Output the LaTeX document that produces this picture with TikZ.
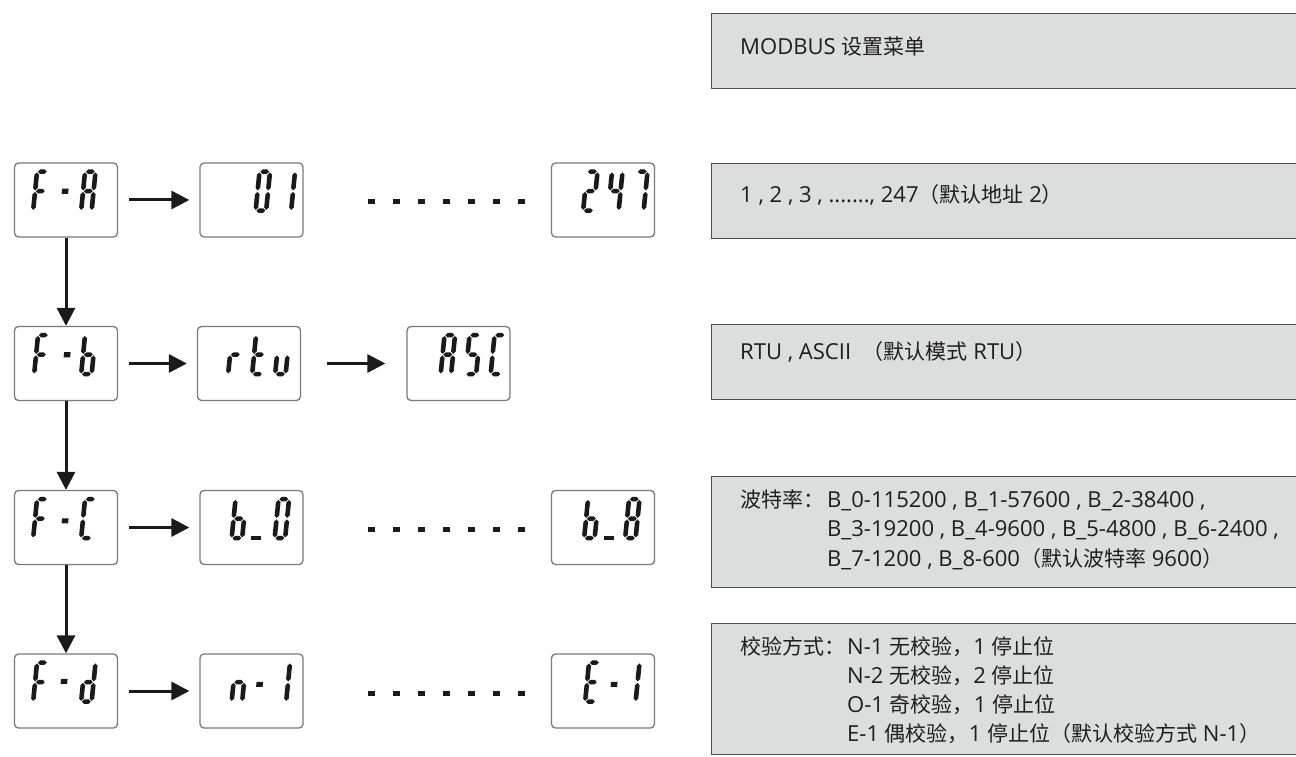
\documentclass[tikz,border=0pt]{standalone}
\usepackage{fontspec}
\setmainfont{Open Sans}[Scale=1.05]
\newfontfamily\cjk{Noto Sans CJK SC}
\usetikzlibrary{calc,arrows.meta}
\definecolor{boxgray}{HTML}{DCDDDD}
\definecolor{boxedge}{HTML}{4D4D4D}
\definecolor{lcdedge}{HTML}{7A7A7A}
\definecolor{segc}{HTML}{1A1A1A}
\definecolor{txt}{HTML}{1E1E1E}
\newcommand\SegH[3]{\fill[segc] (#1,#3) -- ({#1+2.3},{#3+2.3}) -- ({#2-2.3},{#3+2.3}) -- (#2,#3) -- ({#2-2.3},{#3-2.3}) -- ({#1+2.3},{#3-2.3}) -- cycle;}
\newcommand\SegV[3]{\fill[segc] (#1,#2) -- ({#1+2.3},{#2+2.3}) -- ({#1+2.3},{#3-2.3}) -- (#1,#3) -- ({#1-2.3},{#3-2.3}) -- ({#1-2.3},{#2+2.3}) -- cycle;}
\newcommand\SGa{\SegH{0.8}{9.7}{39}}
\newcommand\SGb{\SegV{10.5}{20.3}{38.2}}
\newcommand\SGc{\SegV{10.5}{0.8}{18.7}}
\newcommand\SGd{\SegH{0.8}{9.7}{0}}
\newcommand\SGe{\SegV{0}{0.8}{18.7}}
\newcommand\SGf{\SegV{0}{20.3}{38.2}}
\newcommand\SGg{\SegH{0.8}{9.7}{19.5}}
\newcommand\lcdchar[3]{\begin{scope}[shift={($(#1.north west)+(#2,0)+(2.3,-48.3)$)},xslant=0.1]\foreach \sg in {#3}{\csname SG\sg\endcsname}\end{scope}}
\newcommand\lcddot[3]{\begin{scope}[shift={($(#1.north west)+(#2,-#3)$)},xslant=0.1]\fill[segc] (0,-2.6) rectangle (6.5,2.6);\end{scope}}
\newcommand\lcdbar[2]{\begin{scope}[shift={($(#1.north west)+(#2,-48.3)$)}]\fill[segc] (0,-2) rectangle (10,2);\end{scope}}
\tikzset{
  lcd/.style={draw=lcdedge, line width=1.3pt, rounded corners=4pt, fill=white, minimum width=103pt, minimum height=74pt, inner sep=0pt},
  gbox/.style={draw=boxedge, line width=1.3pt, fill=boxgray, anchor=north west, minimum width=600pt, inner sep=0pt},
  txtn/.style={anchor=base west, inner sep=0pt, text=txt, font=\fontsize{21}{24}\selectfont},
  arr/.style={draw=segc, line width=3pt, -{Triangle[length=18pt,width=18pt]}},
}
\begin{document}
\begin{tikzpicture}[x=1pt,y=1pt]
\useasboundingbox (0,0) rectangle (1296,756);
% gray description boxes
\node[gbox, minimum height=75pt] (g1) at (711,743) {};
\node[gbox, minimum height=75pt] (g2) at (711,593) {};
\node[gbox, minimum height=75pt] (g3) at (711,432) {};
\node[gbox, minimum height=111pt] (g4) at (711,280) {};
\node[gbox, minimum height=131pt] (g5) at (711,133) {};
\node[txtn] (t1) at (740,701) {MODBUS {\cjk 设置菜单}};
\node[txtn] (t2) at (740,553) {1 , 2 , 3 , ......., 247{\cjk （默认地址} 2{\cjk ）}};
\node[txtn] (t3) at (740,396) {RTU , ASCII \ {\cjk （默认模式} RTU{\cjk ）}};
\node[txtn] (t4a) at (740,249) {{\cjk 波特率：}};
\node[txtn] (t4b) at (827,249) {B\_0-115200 , B\_1-57600 , B\_2-38400 ,};
\node[txtn] (t4c) at (827,219.5) {B\_3-19200 , B\_4-9600 , B\_5-4800 , B\_6-2400 ,};
\node[txtn] (t4d) at (827,190) {B\_7-1200 , B\_8-600{\cjk （默认波特率} 9600{\cjk ）}};
\node[txtn] (t5a) at (740,102) {{\cjk 校验方式：}};
\node[txtn] (t5b) at (847,102) {N-1 {\cjk 无校验，}1 {\cjk 停止位}};
\node[txtn] (t5c) at (847,73) {N-2 {\cjk 无校验，}2 {\cjk 停止位}};
\node[txtn] (t5d) at (847,44) {O-1 {\cjk 奇校验，}1 {\cjk 停止位}};
\node[txtn] (t5e) at (847,15) {E-1 {\cjk 偶校验，}1 {\cjk 停止位（默认校验方式} N-1{\cjk ）}};
% LCD boxes
\node[lcd] (FA) at (66,556) {};
\node[lcd] (A1) at (251.5,556) {};
\node[lcd] (A2) at (603,556) {};
\node[lcd] (Fb) at (66,392.5) {};
\node[lcd] (B1) at (249,392.5) {};
\node[lcd] (B2) at (458.5,392.5) {};
\node[lcd] (FC) at (66,228.5) {};
\node[lcd] (C1) at (251.5,228.5) {};
\node[lcd] (C2) at (603,228.5) {};
\node[lcd] (Fd) at (66,65) {};
\node[lcd] (D1) at (251.5,65) {};
\node[lcd] (D2) at (603,65) {};
% glyphs row 1
\lcdchar{FA}{17}{a,f,e,g}\lcddot{FA}{48}{29}\lcdchar{FA}{65}{a,b,c,e,f,g}
\lcdchar{A1}{54}{a,b,c,d,e,f}\lcdchar{A1}{79}{b,c}
\lcdchar{A2}{30}{a,b,g,e,d}\lcdchar{A2}{55}{f,g,b,c}\lcdchar{A2}{80}{a,b,c}
% row 2
\lcdchar{Fb}{18}{a,f,e,g}\lcddot{Fb}{50}{29}\lcdchar{Fb}{65}{f,e,g,c,d}
\lcdchar{B1}{29}{e,g}\lcdchar{B1}{53}{f,e,g,d}\lcdchar{B1}{76}{e,d,c}
\lcdchar{B2}{32}{a,b,c,e,f,g}\lcdchar{B2}{57}{a,f,g,c,d}\lcdchar{B2}{82}{a,f,e,d}
% row 3
\lcdchar{FC}{17}{a,f,e,g}\lcddot{FC}{48}{31}\lcdchar{FC}{65}{a,f,e,d}
\lcdchar{C1}{30}{f,e,g,c,d}\lcdbar{C1}{52}\lcdchar{C1}{73}{a,b,c,d,e,f}
\lcdchar{C2}{31}{f,e,g,c,d}\lcdbar{C2}{53}\lcdchar{C2}{72}{a,b,c,d,e,f,g}
% row 4
\lcdchar{Fd}{17}{a,f,e,g}\lcddot{Fd}{47}{28}\lcdchar{Fd}{65}{b,c,g,e,d}
\lcdchar{D1}{30}{e,g,c}\lcddot{D1}{57}{31}\lcdchar{D1}{74}{b,c}
\lcdchar{D2}{32}{a,f,g,e,d}\lcddot{D2}{60}{31}\lcdchar{D2}{72}{b,c}
% connectors
\draw[arr, shorten <=11pt, shorten >=10pt] (FA) -- (A1);
\draw[arr, shorten <=11pt, shorten >=10pt] (Fb) -- (B1);
\draw[arr, shorten <=26pt, shorten >=21pt] (B1) -- (B2);
\draw[arr, shorten <=11pt, shorten >=10pt] (FC) -- (C1);
\draw[arr, shorten <=11pt, shorten >=10pt] (Fd) -- (D1);
\draw[arr] (FA) -- (Fb);
\draw[arr] (Fb) -- (FC);
\draw[arr] (FC) -- (Fd);
% dotted continuations
\foreach \yy in {554,226.5,63}{
  \foreach \i in {0,...,6}{\fill[segc] ({368+25*\i},{\yy-2.5}) rectangle ++(7,5);}
}
\end{tikzpicture}
\end{document}
